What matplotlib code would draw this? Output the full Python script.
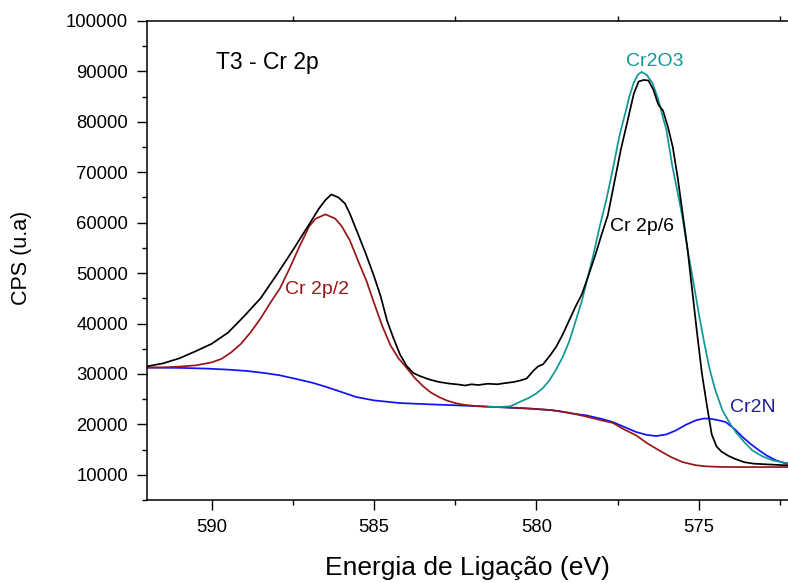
import numpy as np
import matplotlib
matplotlib.use("Agg")
import matplotlib.pyplot as plt
from matplotlib.ticker import MultipleLocator

plt.rcParams['font.family'] = ['Liberation Sans', 'DejaVu Sans']

# experimental spectrum (binding energy in eV, counts)
exp_e = [592.0, 591.5, 591.0, 590.5, 590.0, 589.5, 589.0, 588.5, 588.0, 587.5,
         587.0, 586.7, 586.5, 586.32, 586.1, 585.9, 585.75, 585.5, 585.25, 585.0,
         584.8, 584.6, 584.4, 584.2, 584.0, 583.8, 583.6, 583.3, 583.0, 582.7,
         582.4, 582.2, 582.0, 581.8, 581.5, 581.2, 581.0, 580.7, 580.5, 580.3,
         580.1, 579.95, 579.8, 579.6, 579.4, 579.2, 579.0, 578.8, 578.6, 578.4,
         578.2, 578.0, 577.8, 577.6, 577.4, 577.2, 577.0, 576.85, 576.7, 576.55,
         576.4, 576.25, 576.1, 575.95, 575.8, 575.65, 575.5, 575.35, 575.2, 575.05,
         574.9, 574.75, 574.6, 574.45, 574.3, 574.1, 573.9, 573.6, 573.3, 573.0,
         572.7, 572.4, 572.1]
exp_cps = [31500, 32100, 33100, 34500, 36000, 38200, 41500, 45000, 49700, 54600,
           59700, 62800, 64500, 65600, 65000, 63800, 61800, 57800, 53700, 49300,
           45400, 40500, 37000, 33800, 31600, 30200, 29600, 28900, 28400, 28100,
           27900, 27700, 27950, 27800, 28050, 27950, 28150, 28400, 28700, 29100,
           30600, 31500, 31900, 33500, 35300, 37700, 40500, 43300, 45800, 49500,
           53300, 57500, 61500, 68000, 74500, 80000, 85600, 88000, 88300, 88200,
           86400, 83500, 82200, 79000, 75000, 69000, 62000, 55000, 46500, 38000,
           30000, 23800, 18000, 15600, 14600, 13800, 13200, 12500, 12200, 12100,
           12000, 11900, 11850]

# Cr 2p/2 component + background
p2_e = [592.0, 591.5, 591.0, 590.5, 590.0, 589.7, 589.4, 589.1, 588.8, 588.5,
        588.2, 587.9, 587.6, 587.3, 587.0, 586.8, 586.5, 586.2, 586.0, 585.75,
        585.5, 585.24, 585.0, 584.75, 584.5, 584.25, 584.0, 583.75, 583.5, 583.25,
        583.0, 582.75, 582.5, 582.2, 581.9, 581.5, 581.14, 580.5, 580.0, 579.5,
        579.0, 578.5, 578.0, 577.65, 577.3, 576.93, 576.6, 576.22, 575.85, 575.5,
        575.1, 574.78, 574.3, 573.65, 572.1]
p2_cps = [31260, 31300, 31450, 31700, 32300, 33000, 34300, 36000, 38300, 41000,
          44100, 47000, 51000, 55300, 59300, 60800, 61650, 60800, 59300, 56500,
          52500, 48500, 44000, 39500, 35700, 33100, 31200, 29200, 27600, 26300,
          25400, 24700, 24200, 23850, 23650, 23500, 23440, 23250, 23050, 22800,
          22300, 21600, 20800, 20300, 19000, 17820, 16300, 14840, 13500, 12520,
          11900, 11670, 11550, 11530, 11530]

# Cr2O3 component + background
ox_e = [581.5, 581.14, 580.8, 580.52, 580.25, 580.01, 579.8, 579.6, 579.4, 579.19,
        579.0, 578.88, 578.6, 578.27, 578.06, 577.85, 577.65, 577.45, 577.24, 577.14,
        577.0, 576.88, 576.76, 576.6, 576.42, 576.25, 576.11, 576.0, 575.81, 575.65,
        575.5, 575.34, 575.2, 574.98, 574.83, 574.68, 574.5, 574.27, 574.05, 573.86,
        573.6, 573.35, 573.05, 572.73, 572.4, 572.12]
ox_cps = [23500, 23440, 23600, 24430, 25200, 26100, 27200, 28740, 30800, 33370,
          36300, 38660, 44500, 53000, 59000, 64470, 70500, 77030, 82330, 85000,
          87800, 89300, 89900, 89300, 87630, 84500, 81010, 78500, 71080, 66000,
          61000, 54500, 49500, 41300, 36200, 31380, 27000, 22780, 20300, 18480,
          16500, 14840, 13700, 12860, 12450, 12200]

# Cr2N component + background
n_e = [592.0, 591.0, 590.16, 589.5, 588.93, 588.4, 587.91, 587.4, 586.9, 586.47,
       586.0, 585.55, 585.0, 584.22, 583.29, 582.5, 581.75, 581.0, 580.22, 579.6,
       579.29, 578.88, 578.47, 578.0, 577.65, 577.3, 576.93, 576.6, 576.31, 576.0,
       575.7, 575.4, 575.09, 574.85, 574.68, 574.45, 574.17, 573.9, 573.65, 573.4,
       573.14, 572.9, 572.62, 572.35, 572.12]
n_cps = [31260, 31200, 31060, 30850, 30590, 30200, 29730, 29000, 28250, 27410,
         26400, 25420, 24750, 24230, 23970, 23780, 23580, 23350, 23120, 22850,
         22590, 22130, 21790, 21100, 20460, 19500, 18480, 17900, 17680, 18000,
         18810, 19900, 20800, 21150, 21140, 20900, 20460, 19100, 17490, 16100,
         14840, 13800, 12860, 12300, 12000]

fig = plt.figure(figsize=(7.88, 5.83), dpi=100)
ax = fig.add_axes([0.1865, 0.1424, 0.8135, 0.8216])

lw = 1.25
ax.plot(n_e, n_cps, color="#1010ff", lw=lw)
ax.plot(p2_e, p2_cps, color="#981616", lw=lw)
ax.plot(ox_e, ox_cps, color="#119797", lw=lw)
ax.plot(exp_e, exp_cps, color="black", lw=lw)

ax.set_xlim(592, 572.25)
ax.set_ylim(5000, 100000)

ax.xaxis.set_major_locator(MultipleLocator(5))
ax.xaxis.set_minor_locator(MultipleLocator(2.5))
ax.yaxis.set_major_locator(MultipleLocator(10000))
ax.yaxis.set_minor_locator(MultipleLocator(5000))

ax.spines['right'].set_visible(False)
for s in ['left', 'bottom', 'top']:
    ax.spines[s].set_linewidth(1.1)

ax.tick_params(which='major', direction='out', length=7.5, width=1.0,
               labelsize=13.3, pad=6)
ax.tick_params(which='minor', direction='out', length=3.8, width=1.0)
ax.tick_params(axis='x', which='minor', top=True)
ax.tick_params(axis='x', which='major', top=False)

ax.set_xlabel("Energia de Ligação (eV)", fontsize=19)
ax.set_ylabel("CPS (u.a)", fontsize=15.5)
ax.xaxis.set_label_coords(0.5, -0.142)
ax.xaxis.label.set_va('center')
ax.yaxis.set_label_coords(-0.195, 0.505)
ax.yaxis.label.set_va('center')

ax.text(588.28, 91860, "T3 - Cr 2p", fontsize=16.5,
        ha='center', va='center')
ax.text(586.77, 46800, "Cr 2p/2", fontsize=14, color="#981616",
        ha='center', va='center')
ax.text(576.74, 59300, "Cr 2p/6", fontsize=14, color="black",
        ha='center', va='center')
ax.text(576.34, 92060, "Cr2O3", fontsize=14, color="#119797",
        ha='center', va='center')
ax.text(573.32, 23380, "Cr2N", fontsize=14, color="#1f1f99",
        ha='center', va='center')

fig.savefig("out.png", dpi=100)
plt.close(fig)
